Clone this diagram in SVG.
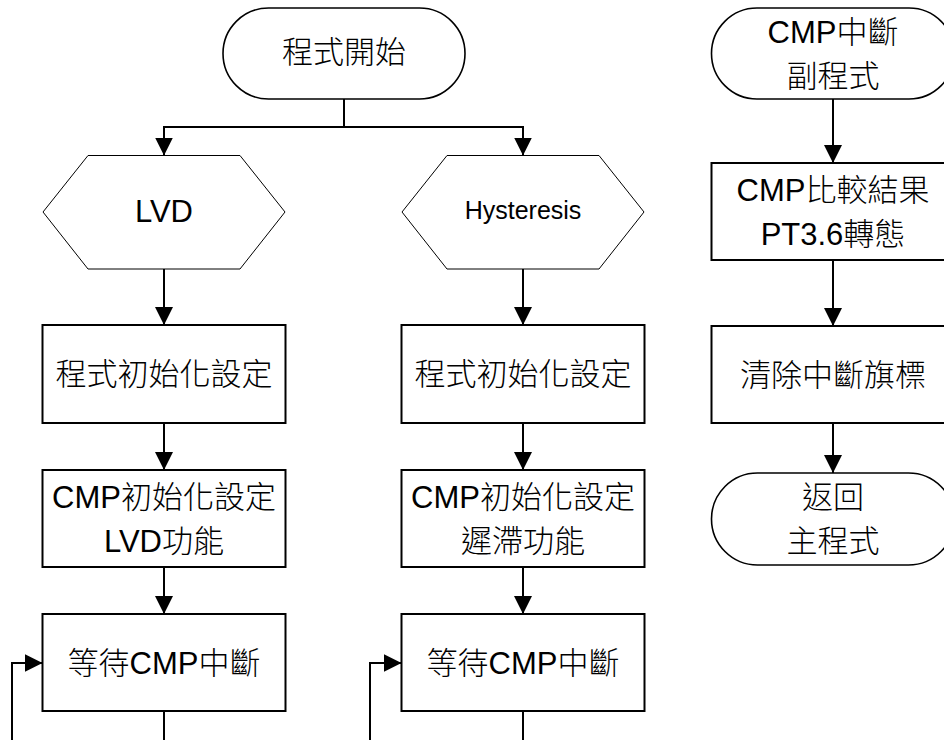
<svg xmlns="http://www.w3.org/2000/svg" width="944" height="740" viewBox="0 0 944 740">
  <defs>
    <marker id="arrow" markerUnits="userSpaceOnUse" markerWidth="18" markerHeight="18" refX="18" refY="9" orient="auto">
      <path d="M0,0 L18,9 L0,18 Z" fill="#000"/>
    </marker>
    <style>
      .box { fill: #fff; stroke: #000; stroke-width: 2; }
      .term { fill: #fff; stroke: #000; stroke-width: 1.6; }
      .hex { fill: #fff; stroke: #000; stroke-width: 1; }
      .edge { fill: none; stroke: #000; stroke-width: 2; }
      .arr { marker-end: url(#arrow); }
      text { font-family: "Liberation Sans", "Noto Sans CJK TC", Arial, sans-serif; font-size: 31px; font-weight: 300; fill: #000; text-anchor: middle; }
      .small { font-size: 25px; }
    </style>
  </defs>

  <g id="connectors">
    <!-- start splits into the two branches -->
    <polyline class="edge" points="344,99 344,127"/>
    <polyline class="edge arr" points="344,127 164,127 164,155.5"/>
    <polyline class="edge arr" points="344,127 523,127 523,155.5"/>
    <!-- LVD branch -->
    <line class="edge arr" x1="164" y1="269" x2="164" y2="325"/>
    <line class="edge arr" x1="164" y1="423" x2="164" y2="470"/>
    <line class="edge arr" x1="164" y1="567" x2="164" y2="614"/>
    <line class="edge" x1="164" y1="711" x2="164" y2="742"/>
    <polyline class="edge arr" points="12,742 12,663 42.5,663"/>
    <!-- Hysteresis branch -->
    <line class="edge arr" x1="523" y1="269" x2="523" y2="325"/>
    <line class="edge arr" x1="523" y1="423" x2="523" y2="470"/>
    <line class="edge arr" x1="523" y1="567" x2="523" y2="614"/>
    <line class="edge" x1="523" y1="711" x2="523" y2="742"/>
    <polyline class="edge arr" points="370,742 370,663 401.5,663"/>
    <!-- interrupt routine -->
    <line class="edge arr" x1="833" y1="99" x2="833" y2="163"/>
    <line class="edge arr" x1="833" y1="260" x2="833" y2="326"/>
    <line class="edge arr" x1="833" y1="423" x2="833" y2="473"/>
  </g>

  <g id="start">
    <rect class="term" x="223" y="8" width="242" height="91" rx="45.5" ry="45.5"/>
    <text x="344" y="63">程式開始</text>
  </g>

  <g id="lvd">
    <polygon class="hex" points="43,212 88,155.5 240,155.5 285,212 240,269 88,269"/>
    <text x="164" y="222">LVD</text>
  </g>
  <g id="lvd-init">
    <rect class="box" x="42.5" y="325" width="243" height="98"/>
    <text x="164" y="385">程式初始化設定</text>
  </g>
  <g id="lvd-cmp">
    <rect class="box" x="42.5" y="470" width="243" height="97"/>
    <text x="164" y="508">CMP初始化設定</text>
    <text x="164" y="552">LVD功能</text>
  </g>
  <g id="lvd-wait">
    <rect class="box" x="42.5" y="614" width="243" height="97"/>
    <text x="164" y="674">等待CMP中斷</text>
  </g>

  <g id="hys">
    <polygon class="hex" points="402,212 447,155.5 599,155.5 644,212 599,269 447,269"/>
    <text class="small" x="523" y="219">Hysteresis</text>
  </g>
  <g id="hys-init">
    <rect class="box" x="401.5" y="325" width="243" height="98"/>
    <text x="523" y="385">程式初始化設定</text>
  </g>
  <g id="hys-cmp">
    <rect class="box" x="401.5" y="470" width="243" height="97"/>
    <text x="523" y="508">CMP初始化設定</text>
    <text x="523" y="552">遲滯功能</text>
  </g>
  <g id="hys-wait">
    <rect class="box" x="401.5" y="614" width="243" height="97"/>
    <text x="523" y="674">等待CMP中斷</text>
  </g>

  <g id="isr-start">
    <rect class="term" x="711.5" y="8" width="243" height="91" rx="45.5" ry="45.5"/>
    <text x="833" y="43">CMP中斷</text>
    <text x="833" y="87">副程式</text>
  </g>
  <g id="isr-compare">
    <rect class="box" x="711.5" y="163" width="243" height="97"/>
    <text x="833" y="201">CMP比較結果</text>
    <text x="833" y="245">PT3.6轉態</text>
  </g>
  <g id="isr-clear">
    <rect class="box" x="711.5" y="326" width="243" height="97"/>
    <text x="833" y="386">清除中斷旗標</text>
  </g>
  <g id="isr-return">
    <rect class="term" x="711.5" y="473" width="243" height="92" rx="46" ry="46"/>
    <text x="833" y="508">返回</text>
    <text x="833" y="552">主程式</text>
  </g>
</svg>
